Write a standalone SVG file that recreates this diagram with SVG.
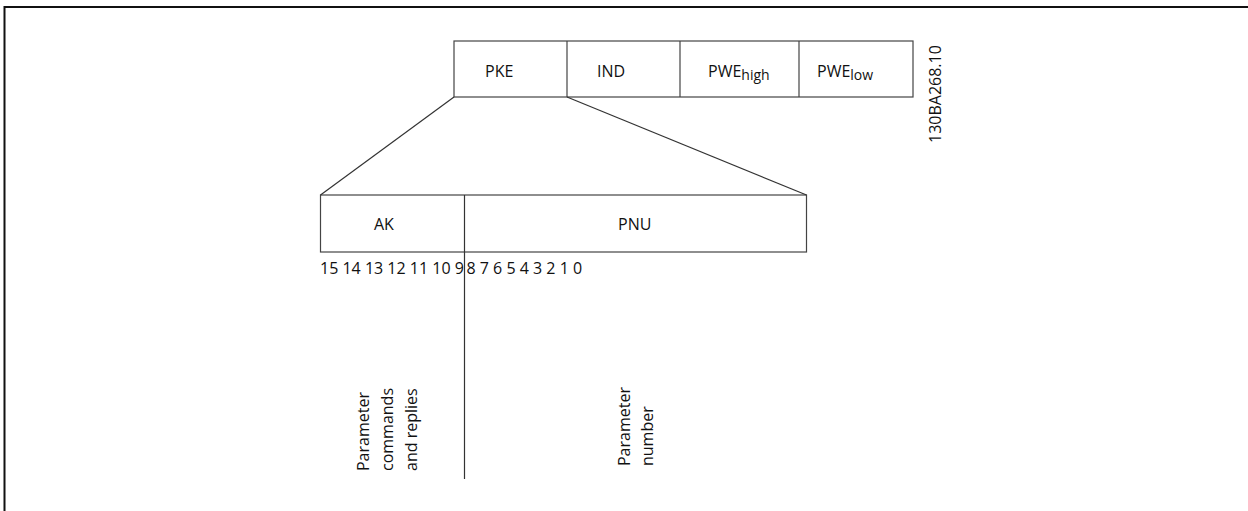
<svg xmlns="http://www.w3.org/2000/svg" width="1248" height="511" viewBox="0 0 1248 511">
<style>
text{font-family:"Open Sans","Noto Sans","Liberation Sans",sans-serif;font-size:16px;fill:#111}
.sub{font-size:14px}
.box{fill:none;stroke:#444;stroke-width:1.2}
.ln{stroke:#333;stroke-width:1.2;fill:none}
</style>
<rect width="1248" height="511" fill="#fff"/>
<path d="M4.5,511 V7 H1248" fill="none" stroke="#111" stroke-width="2"/>
<g id="header">
<rect class="box" x="454" y="41" width="459" height="56"/>
</g>
<g id="pke"><text x="485" y="77">PKE</text></g>
<g id="ind"><line class="box" x1="567" y1="41" x2="567" y2="97"/><text x="597" y="77">IND</text></g>
<g id="pwehigh"><line class="box" x1="680" y1="41" x2="680" y2="97"/><text x="708" y="77">PWE<tspan class="sub" dy="3">high</tspan></text></g>
<g id="pwelow"><line class="box" x1="799" y1="41" x2="799" y2="97"/><text x="817" y="77">PWE<tspan class="sub" dy="3">low</tspan></text></g>
<g id="code"><text transform="translate(941,143) rotate(-90)">130BA268.10</text></g>
<g id="pke-detail">
<rect class="box" x="320.5" y="195" width="486" height="57"/>
</g>
<g id="ak"><text x="374" y="230">AK</text></g>
<g id="pnu"><text x="618" y="230">PNU</text></g>
<g id="bits">
<text x="320" y="274">15 14 13 12 11 10 9</text>
<text x="466.5" y="274">8 7 6 5 4 3 2 1 0</text>
</g>
<g id="connectors">
<line class="ln" x1="454" y1="97" x2="320.5" y2="195"/>
<line class="ln" x1="567" y1="97" x2="806.5" y2="195"/>
<line class="ln" x1="464.5" y1="195" x2="464.5" y2="479"/>
</g>
<g id="label-ak">
<text transform="translate(369,471) rotate(-90)">Parameter</text>
<text transform="translate(393,471) rotate(-90)">commands</text>
<text transform="translate(417,471) rotate(-90)">and replies</text>
</g>
<g id="label-pnu">
<text transform="translate(630,466) rotate(-90)">Parameter</text>
<text transform="translate(653,466) rotate(-90)">number</text>
</g>
</svg>
